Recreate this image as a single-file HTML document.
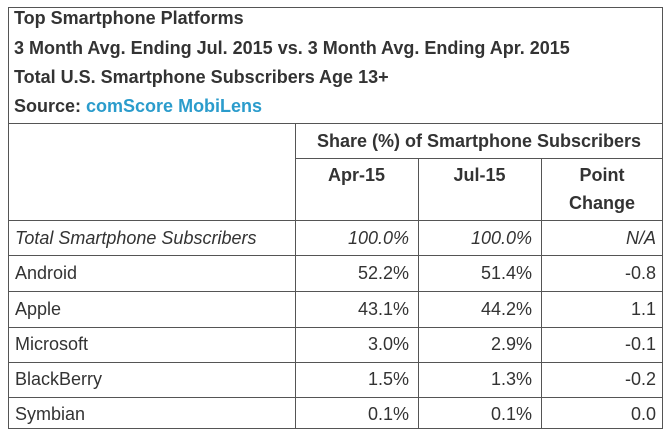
<!DOCTYPE html>
<html><head><meta charset="utf-8"><style>
body{margin:0;background:#fff;width:671px;height:438px;overflow:hidden;font-family:"Liberation Sans",Arial,sans-serif;color:#333;}
.box{position:absolute;left:8px;top:7px;width:655px;height:422px;border:1px solid #555;box-sizing:border-box;}
.t{position:absolute;left:14px;font-weight:bold;font-size:18px;white-space:nowrap;}
.l{position:absolute;background:#555;}
.c{position:absolute;font-size:18px;white-space:nowrap;}
.r{text-align:right;}
</style></head><body>
<div class="box"></div>
<div class="t" style="top:8px">Top Smartphone Platforms</div>
<div class="t" style="top:38px">3 Month Avg. Ending Jul. 2015 vs. 3 Month Avg. Ending Apr. 2015</div>
<div class="t" style="top:67px">Total U.S. Smartphone Subscribers Age 13+</div>
<div class="t" style="top:96px">Source: <span style="color:#2b9ccc">comScore MobiLens</span></div>
<div class="l" style="left:8px;top:123px;width:655px;height:1px"></div>
<div class="l" style="left:295px;top:158px;width:368px;height:1px"></div>
<div class="l" style="left:8px;top:220px;width:655px;height:1px"></div>
<div class="l" style="left:8px;top:255px;width:655px;height:1px"></div>
<div class="l" style="left:8px;top:291px;width:655px;height:1px"></div>
<div class="l" style="left:8px;top:327px;width:655px;height:1px"></div>
<div class="l" style="left:8px;top:362px;width:655px;height:1px"></div>
<div class="l" style="left:8px;top:397px;width:655px;height:1px"></div>
<div class="l" style="left:295px;top:123px;width:1px;height:306px"></div>
<div class="l" style="left:418px;top:158px;width:1px;height:271px"></div>
<div class="l" style="left:541px;top:158px;width:1px;height:271px"></div>
<div class="c" style="left:295px;width:368px;top:131px;text-align:center;font-weight:bold">Share (%) of Smartphone Subscribers</div>
<div class="c" style="left:295px;width:123px;top:165px;text-align:center;font-weight:bold">Apr-15</div>
<div class="c" style="left:418px;width:123px;top:165px;text-align:center;font-weight:bold">Jul-15</div>
<div class="c" style="left:541px;width:122px;text-align:center;font-weight:bold;line-height:28px;top:161px">Point<br>Change</div>
<div class="c" style="left:15px;top:228px;font-style:italic">Total Smartphone Subscribers</div>
<div class="c r" style="left:295px;width:114px;top:228px;font-style:italic">100.0%</div>
<div class="c r" style="left:418px;width:114px;top:228px;font-style:italic">100.0%</div>
<div class="c r" style="left:541px;width:115px;top:228px;font-style:italic">N/A</div>
<div class="c" style="left:15px;top:263px">Android</div>
<div class="c r" style="left:295px;width:114px;top:263px">52.2%</div>
<div class="c r" style="left:418px;width:114px;top:263px">51.4%</div>
<div class="c r" style="left:541px;width:115px;top:263px">-0.8</div>
<div class="c" style="left:15px;top:299px">Apple</div>
<div class="c r" style="left:295px;width:114px;top:299px">43.1%</div>
<div class="c r" style="left:418px;width:114px;top:299px">44.2%</div>
<div class="c r" style="left:541px;width:115px;top:299px">1.1</div>
<div class="c" style="left:15px;top:334px">Microsoft</div>
<div class="c r" style="left:295px;width:114px;top:334px">3.0%</div>
<div class="c r" style="left:418px;width:114px;top:334px">2.9%</div>
<div class="c r" style="left:541px;width:115px;top:334px">-0.1</div>
<div class="c" style="left:15px;top:369px">BlackBerry</div>
<div class="c r" style="left:295px;width:114px;top:369px">1.5%</div>
<div class="c r" style="left:418px;width:114px;top:369px">1.3%</div>
<div class="c r" style="left:541px;width:115px;top:369px">-0.2</div>
<div class="c" style="left:15px;top:404px">Symbian</div>
<div class="c r" style="left:295px;width:114px;top:404px">0.1%</div>
<div class="c r" style="left:418px;width:114px;top:404px">0.1%</div>
<div class="c r" style="left:541px;width:115px;top:404px">0.0</div>
</body></html>
